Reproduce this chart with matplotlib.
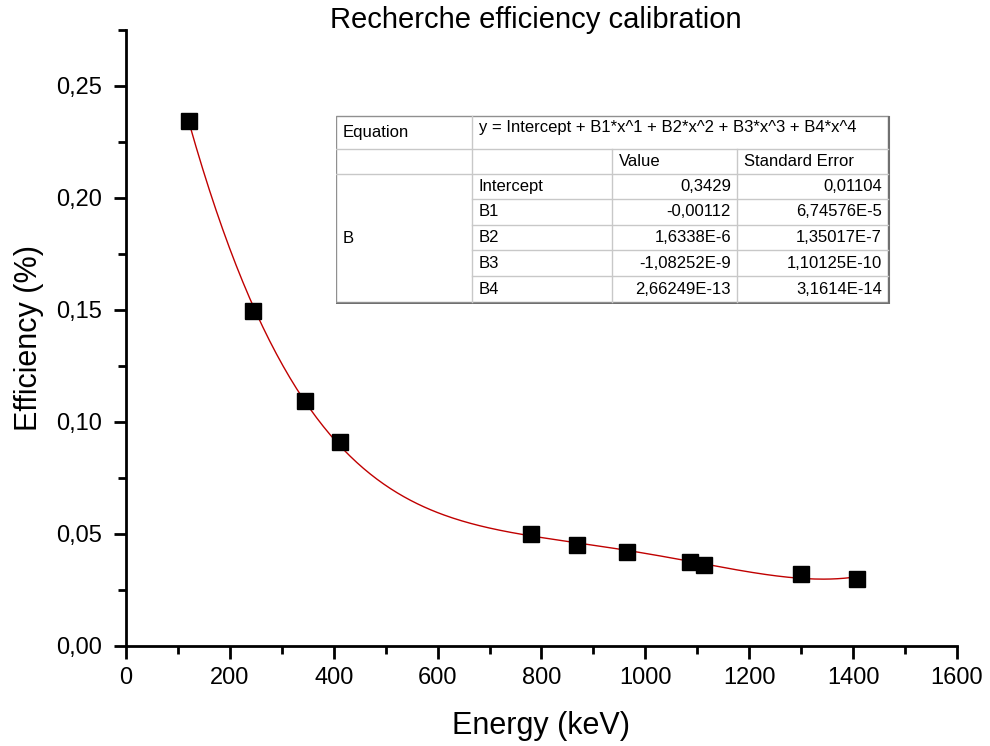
import numpy as np
import matplotlib
matplotlib.use('Agg')
import matplotlib.pyplot as plt
from matplotlib.ticker import MultipleLocator, FuncFormatter

plt.rcParams['font.family'] = ['Liberation Sans', 'DejaVu Sans']

# measured points
energy = [121.8, 244.7, 344.3, 411.1, 778.9, 867.4, 964.1, 1085.8, 1112.1, 1299.1, 1408.0]
efficiency = [0.2343, 0.1494, 0.1091, 0.0912, 0.0500, 0.0452, 0.0419, 0.0375, 0.0362, 0.0319, 0.0299]

# fit table
fit_params = ['Intercept', 'B1', 'B2', 'B3', 'B4']
fit_values = ['0,3429', '-0,00112', '1,6338E-6', '-1,08252E-9', '2,66249E-13']
fit_errors = ['0,01104', '6,74576E-5', '1,35017E-7', '1,10125E-10', '3,1614E-14']

fig = plt.figure(figsize=(9.9, 7.46), dpi=100)
W, H = 990, 746
ax = fig.add_axes([126 / W, (H - 645.7) / H, 831 / W, 615.7 / H])

# 4th order polynomial fit, as in the table
coef = np.polyfit(energy, efficiency, 4)
xf = np.linspace(min(energy), max(energy), 300)
ax.plot(xf, np.polyval(coef, xf), color='#c00000', lw=1.0, zorder=2)
ax.plot(energy, efficiency, 's', color='black', ms=11.5, zorder=3)

ax.set_xlim(0, 1600)
ax.set_ylim(0, 0.275)
ax.xaxis.set_major_locator(MultipleLocator(200))
ax.xaxis.set_minor_locator(MultipleLocator(100))
ax.yaxis.set_minor_locator(MultipleLocator(0.025))
ax.set_yticks([0, 0.05, 0.10, 0.15, 0.20, 0.25])
ax.yaxis.set_major_formatter(FuncFormatter(lambda v, p: ('%.2f' % v).replace('.', ',')))

for s in ['top', 'right']:
    ax.spines[s].set_visible(False)
for s in ['left', 'bottom']:
    ax.spines[s].set_linewidth(2)
ax.tick_params(which='major', direction='out', length=9, width=2, labelsize=17)
ax.tick_params(axis='x', which='major', pad=6)
ax.tick_params(axis='y', which='major', pad=8)
ax.tick_params(which='minor', direction='out', length=6, width=2)

ax.set_xlabel('Energy (keV)', fontsize=22, labelpad=16)
ax.set_ylabel('Efficiency (%)', fontsize=22, labelpad=9)
fig.text(536 / W, 1 - 20 / H, 'Recherche efficiency calibration', fontsize=21, ha='center', va='center')

# table drawn in pixel-like coords
x0, x1, x2, x3, x4 = 336, 472, 612, 737, 888
rows = [116, 149, 174, 199, 225, 250, 276, 302]
tax = fig.add_axes([x0 / W, (H - rows[-1] - 2) / H, (x4 - x0 + 3) / W, (rows[-1] - rows[0] + 3) / H])
tax.set_xlim(x0, x4 + 3)
tax.set_ylim(rows[-1] + 2, rows[0] - 1)
tax.axis('off')
tax.add_patch(plt.Rectangle((x0, rows[0]), x4 - x0, rows[-1] - rows[0], facecolor='white',
                            edgecolor='#909090', lw=1.0))
tax.plot([x0 + 1, x4 + 1.5, x4 + 1.5], [rows[-1] + 1.5, rows[-1] + 1.5, rows[0] + 1], color='#707070', lw=1.5)
grey = '#c8c8c8'
tax.plot([x0, x4], [rows[1], rows[1]], color=grey, lw=1)
tax.plot([x0, x4], [rows[2], rows[2]], color=grey, lw=1)
for r in rows[3:-1]:
    tax.plot([x1, x4], [r, r], color=grey, lw=1)
tax.plot([x1, x1], [rows[0], rows[-1]], color=grey, lw=1)
for c in [x2, x3]:
    tax.plot([c, c], [rows[1], rows[-1]], color=grey, lw=1)

fs = 12
tax.text(x0 + 7, (rows[0] + rows[1]) / 2, 'Equation', fontsize=fs, va='center')
tax.text(x1 + 7, (rows[0] + rows[1]) / 2 - 5, 'y = Intercept + B1*x^1 + B2*x^2 + B3*x^3 + B4*x^4',
         fontsize=fs, va='center')
tax.text(x2 + 7, (rows[1] + rows[2]) / 2, 'Value', fontsize=fs, va='center')
tax.text(x3 + 7, (rows[1] + rows[2]) / 2, 'Standard Error', fontsize=fs, va='center')
tax.text(x0 + 7, (rows[2] + rows[-1]) / 2, 'B', fontsize=fs, va='center')
for i in range(len(fit_params)):
    yc = (rows[2 + i] + rows[3 + i]) / 2
    tax.text(x1 + 7, yc, fit_params[i], fontsize=fs, va='center')
    tax.text(x3 - 6, yc, fit_values[i], fontsize=fs, va='center', ha='right')
    tax.text(x4 - 6, yc, fit_errors[i], fontsize=fs, va='center', ha='right')

fig.savefig('out.png', dpi=100)
